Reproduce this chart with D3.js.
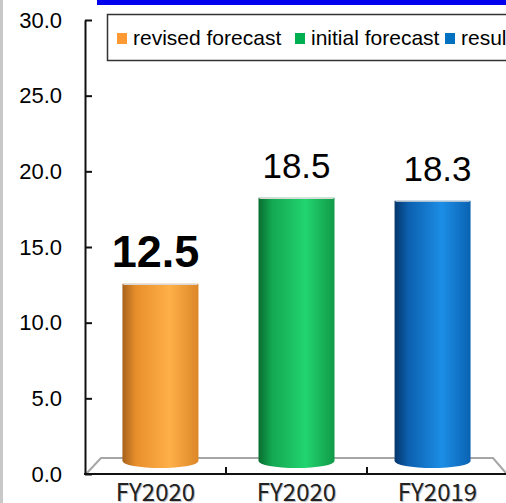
<!DOCTYPE html>
<html>
<head>
<meta charset="utf-8">
<script src="https://cdn.jsdelivr.net/npm/d3@7"></script>
<style>
  body { margin: 0; background: #fff; }
  svg { display: block; font-family: "Liberation Sans", Arial, sans-serif; }
</style>
</head>
<body>
<div id="chart"></div>
<script>
var categories = ["FY2020", "FY2020", "FY2019"];
var values = [12.5, 18.5, 18.3];
var seriesNames = ["revised forecast", "initial forecast", "result"];
var yTicks = [0, 5, 10, 15, 20, 25, 30];

var colors = [
    { dark: "#a8621a", mid: "#e88f2c", light: "#ffb048", edge: "#dc8628", key: "#ff9933" },
    { dark: "#086e30", mid: "#14a852", light: "#22d46f", edge: "#119a48", key: "#00b050" },
    { dark: "#04366c", mid: "#0c5fae", light: "#1c8ee6", edge: "#0a62b2", key: "#0070c0" }
];

var width = 506, height = 503;
var margin = { top: 20, right: 0, bottom: 29, left: 85 };

var svg = d3.select("#chart").append("svg")
    .attr("width", width)
    .attr("height", height);

var defs = svg.append("defs");
colors.forEach(function(c, i) {
    var g = defs.append("linearGradient").attr("id", "cyl" + i)
        .attr("x1", "0%").attr("x2", "100%").attr("y1", "0%").attr("y2", "0%");
    g.append("stop").attr("offset", "0%").attr("stop-color", c.dark);
    g.append("stop").attr("offset", "18%").attr("stop-color", c.mid);
    g.append("stop").attr("offset", "62%").attr("stop-color", c.light);
    g.append("stop").attr("offset", "100%").attr("stop-color", c.edge);
});

// left grey border + top blue strip
svg.append("rect").attr("x", 0).attr("y", 0).attr("width", 3).attr("height", height).attr("fill", "#c8c8c8");
svg.append("rect").attr("x", 97).attr("y", 0).attr("width", width - 97).attr("height", 5).attr("fill", "#0000ee");

var y = d3.scaleLinear().domain([0, 30]).range([height - margin.bottom, margin.top]);
// back wall of the 3d plot (bars sit on it)
var yBar = d3.scaleLinear().domain([0, 30]).range([463, 33]);

var x = d3.scaleBand()
    .domain(d3.range(categories.length))
    .range([margin.left, margin.left + 141 * 3])
    .padding(0);

var floorY = y(0) - 16;
var floor = d3.path();
floor.moveTo(margin.left + 1, y(0));
floor.lineTo(margin.left + 16, floorY);
floor.lineTo(493, floorY);
floor.lineTo(506, y(0) - 1);
svg.append("path").attr("d", floor.toString())
    .attr("fill", "none").attr("stroke", "#a6a6a6").attr("stroke-width", 2);

// y axis
var yAxis = svg.append("g")
    .attr("transform", "translate(" + margin.left + ",0)")
    .call(d3.axisLeft(y).tickValues(yTicks).tickFormat(d3.format(".1f")).tickSize(-7).tickSizeOuter(0).tickPadding(23));
yAxis.select(".domain").attr("stroke", "#111").attr("stroke-width", 2);
yAxis.selectAll(".tick line").attr("stroke", "#111").attr("stroke-width", 2);
yAxis.selectAll(".tick text").attr("font-size", 22).attr("fill", "#000")
    .attr("font-family", "Liberation Sans, Arial, sans-serif");

// bars (cylinders)
var plotMid = (x.range()[0] + x.range()[1]) / 2;
var barW = 76, ry = 7;
function barCx(i) {
    var cx = x(i) + x.bandwidth() / 2;
    return cx + (plotMid - cx) * 0.035;
}
var bars = svg.append("g").selectAll("g").data(values).enter().append("g");
bars.append("path")
    .attr("d", function(d, i) {
        var cx = barCx(i);
        var x0 = cx - barW / 2, x1 = cx + barW / 2, top = yBar(d), bot = yBar(0) - 2;
        return "M" + x0 + "," + top + "L" + x1 + "," + top + "L" + x1 + "," + bot +
            "A" + (barW / 2) + "," + ry + " 0 0 1 " + x0 + "," + bot + "Z";
    })
    .attr("fill", function(d, i) { return "url(#cyl" + i + ")"; });
bars.append("line")
    .attr("x1", function(d, i) { return barCx(i) - barW / 2 + 1; })
    .attr("x2", function(d, i) { return barCx(i) + barW / 2 - 1; })
    .attr("y1", function(d) { return yBar(d) + 0.5; })
    .attr("y2", function(d) { return yBar(d) + 0.5; })
    .attr("stroke", "#d8d8d8").attr("stroke-width", 1.2);

// value labels
svg.append("g").selectAll("text").data(values).enter().append("text")
    .attr("x", function(d, i) { return x(i) + x.bandwidth() / 2; })
    .attr("y", function(d, i) { return yBar(d) - (i == 0 ? 17 : 20); })
    .attr("text-anchor", "middle")
    .attr("font-size", function(d, i) { return i == 0 ? 45 : 35; })
    .attr("font-weight", function(d, i) { return i == 0 ? "bold" : "normal"; })
    .attr("fill", "#000")
    .text(function(d) { return d.toFixed(1); });

// x axis
svg.append("line")
    .attr("x1", margin.left - 1).attr("x2", width)
    .attr("y1", y(0)).attr("y2", y(0))
    .attr("stroke", "#111").attr("stroke-width", 2);
svg.append("g").selectAll("line").data(d3.range(1, categories.length)).enter().append("line")
    .attr("x1", function(i) { return x(i); }).attr("x2", function(i) { return x(i); })
    .attr("y1", y(0)).attr("y2", y(0) - 7)
    .attr("stroke", "#111").attr("stroke-width", 2);

var catLabels = svg.append("g").selectAll("g").data(categories).enter().append("g")
    .attr("font-family", "Noto Sans CJK JP, sans-serif")
    .attr("font-size", 24)
    .attr("text-anchor", "middle");
catLabels.append("text")
    .attr("x", function(d, i) { return x(i) + x.bandwidth() / 2 + 1; })
    .attr("y", 502)
    .attr("fill", "#c4c4c4")
    .text(function(d) { return d; });
catLabels.append("text")
    .attr("x", function(d, i) { return x(i) + x.bandwidth() / 2; })
    .attr("y", 501)
    .attr("fill", "#222")
    .text(function(d) { return d; });

// legend
var legend = svg.append("g");
legend.append("rect")
    .attr("x", 107.5).attr("y", 14.5).attr("width", 420).attr("height", 46)
    .attr("fill", "#fff").attr("stroke", "#333").attr("stroke-width", 1.5);
var legendX = [117, 295, 445];
var items = legend.selectAll("g").data(seriesNames).enter().append("g")
    .attr("transform", function(d, i) { return "translate(" + legendX[i] + ",0)"; });
items.append("rect")
    .attr("x", 0).attr("y", 33).attr("width", 10).attr("height", 11)
    .attr("fill", function(d, i) { return colors[i].key; });
items.append("text")
    .attr("x", 16).attr("y", 44.5)
    .attr("font-size", 21)
    .attr("fill", "#000")
    .text(function(d) { return d; });
</script>
</body>
</html>
